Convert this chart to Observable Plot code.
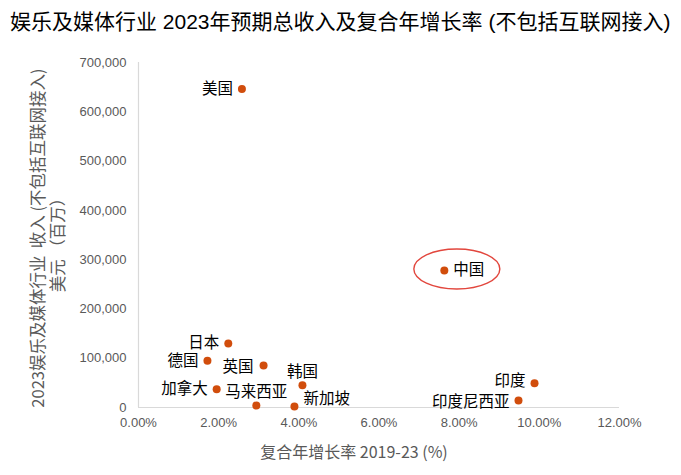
<!DOCTYPE html>
<html>
<head>
<meta charset="utf-8">
<script src="https://cdn.jsdelivr.net/npm/d3@7"></script>
<script src="https://cdn.jsdelivr.net/npm/@observablehq/plot@0.6"></script>
<style>
  html, body { margin: 0; padding: 0; background: #fff; }
  #title { height: 45px; line-height: 44px; padding-left: 10px; font-family: "Liberation Sans", "Noto Sans CJK SC", sans-serif; font-size: 21px; color: #000; white-space: nowrap; }
</style>
</head>
<body>
<div id="title">娱乐及媒体行业 2023年预期总收入及复合年增长率 (不包括互联网接入)</div>
<div id="chart"></div>
<script>
const countries = ["美国", "中国", "日本", "德国", "英国", "韩国", "加拿大", "马来西亚", "新加坡", "印度", "印度尼西亚"];
const cagr = [0.0258, 0.0763, 0.0224, 0.0172, 0.0312, 0.0409, 0.0195, 0.0294, 0.0389, 0.0988, 0.0948];
const revenue = [646000, 278000, 130000, 95000, 85000, 45000, 37000, 4000, 2000, 49000, 14000];
const xTicks = [0, 0.02, 0.04, 0.06, 0.08, 0.10, 0.12];
const yTicks = [0, 100000, 200000, 300000, 400000, 500000, 600000, 700000];
const xTitle = "复合年增长率 2019-23 (%)";
const yTitle1 = "2023娱乐及媒体行业  收入 (不包括互联网接入)";
const yTitle2 = "美元 （百万）";
const highlighted = "中国";

const data = countries.map((c, i) => ({country: c, cagr: cagr[i], revenue: revenue[i]}));

// label placement relative to each dot: [textAnchor, dx, dy]
const place = {
  "美国": ["end", -9, 0], "中国": ["start", 9, 0], "日本": ["end", -9, 0], "德国": ["end", -9, 0],
  "英国": ["end", -10, 1], "韩国": ["middle", 0, -13], "加拿大": ["end", -9, 0],
  "马来西亚": ["middle", 0, -13], "新加坡": ["start", 9, -7],
  "印度": ["end", -9, -2], "印度尼西亚": ["end", -9, 1]
};

const W = 681, H = 430;
const cjk = "'Noto Sans CJK SC', 'Liberation Sans', sans-serif";
const dotColor = "#d14d0c";

const labelMarks = data.map(d => {
  const [anchor, dx, dy] = place[d.country];
  return Plot.text([d], {x: "cagr", y: "revenue", text: "country", textAnchor: anchor, dx, dy,
    fill: "#000", fontSize: 15.5, fontFamily: cjk, lineHeight: 1});
});

const plot = Plot.plot({
  width: W,
  height: H,
  marginTop: 17,
  marginBottom: 68,
  marginLeft: 138,
  marginRight: 62,
  style: {fontFamily: "'Liberation Sans', Arial, sans-serif", fontSize: "13px", color: "#595959", background: "#fff"},
  x: {domain: [0, 0.12], ticks: xTicks, tickFormat: d => (d * 100).toFixed(2) + "%", tickSize: 0, tickPadding: 10, label: null},
  y: {domain: [0, 700000], ticks: yTicks, tickFormat: d3.format(","), tickSize: 0, tickPadding: 12, label: null},
  marks: [
    Plot.ruleX([0], {stroke: "#d9d9d9", strokeWidth: 1.2}),
    Plot.ruleY([0], {stroke: "#d9d9d9", strokeWidth: 1.2}),
    Plot.dot(data, {x: "cagr", y: "revenue", r: 4, fill: dotColor, stroke: "none"}),
    ...labelMarks
  ]
});

const svg = d3.select(plot);
const sx = plot.scale("x"), sy = plot.scale("y");
const hi = data.find(d => d.country === highlighted);
svg.append("ellipse")
  .attr("cx", sx.apply(hi.cagr) + 13)
  .attr("cy", sy.apply(hi.revenue) - 1)
  .attr("rx", 43).attr("ry", 20)
  .attr("fill", "none").attr("stroke", "#e2463d").attr("stroke-width", 1.4);

// axis titles
svg.append("text")
  .attr("x", 354).attr("y", 407 - 45 + 51)
  .attr("text-anchor", "middle").attr("fill", "#595959")
  .style("font-family", cjk).style("font-size", "16px")
  .text(xTitle);
const yMid = 238 - 45;
svg.append("text")
  .attr("transform", `translate(44,${yMid}) rotate(-90)`)
  .attr("text-anchor", "middle").attr("fill", "#595959")
  .style("font-family", cjk).style("font-size", "16.5px")
  .text(yTitle1);
svg.append("text")
  .attr("transform", `translate(64,${yMid + 3}) rotate(-90)`)
  .attr("text-anchor", "middle").attr("fill", "#595959")
  .style("font-family", cjk).style("font-size", "16.5px")
  .text(yTitle2);

document.getElementById("chart").appendChild(plot);
</script>
</body>
</html>
